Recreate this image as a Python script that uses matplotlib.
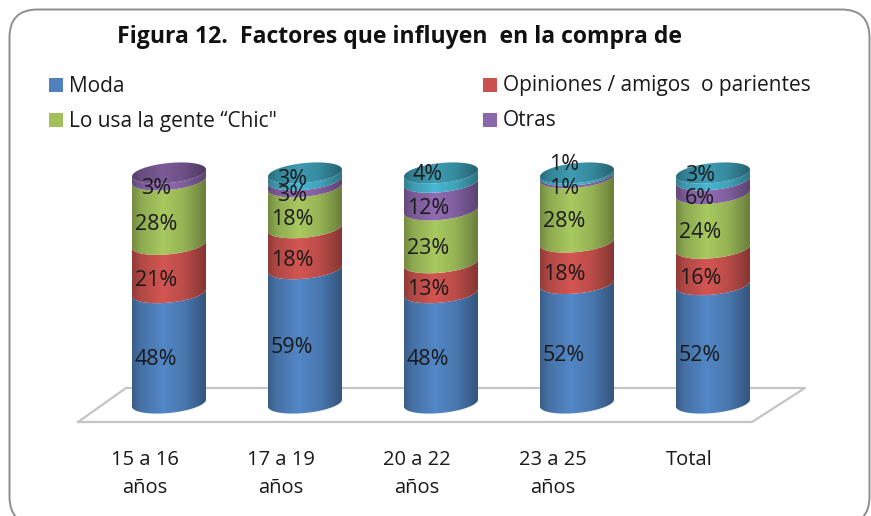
import matplotlib
matplotlib.use("Agg")
import matplotlib.pyplot as plt
import numpy as np
from matplotlib.colors import to_rgb
from matplotlib.patches import FancyBboxPatch, Polygon, Rectangle
from matplotlib.transforms import Affine2D

#===[DATA]===#
categories = ["15 a 16\naños", "17 a 19\naños", "20 a 22\naños", "23 a 25\naños", "Total"]
moda = [48, 59, 48, 52, 52]
opiniones = [21, 18, 13, 18, 16]
chic = [28, 18, 23, 28, 24]
otras = [3, 3, 12, 1, 6]
sin_nombre = [0, 3, 4, 1, 3]
series = [moda, opiniones, chic, otras, sin_nombre]
legend_names = ["Moda", "Opiniones / amigos  o parientes", "Lo usa la gente \u201cChic\"", "Otras"]
title = "Figura 12.  Factores que influyen  en la compra de"

colors = ["#4f81bd", "#c9524e", "#a1c05b", "#8a66aa", "#45aec8"]
top_label_shift = [0, 9, 15, 22, 13]  # the last labels sit higher than the middle of their slice

W, H = 871, 516
X0, XSTEP = 169, 136   # pixel of first bar and gap between bars
Y0, YSCALE = 403, 2.3  # pixel of 0% and pixels per 1%
HALF_W = 37 / XSTEP
B = 10 / YSCALE    # depth of the ellipses
TILT = 3.5 / YSCALE

plt.rcParams["font.family"] = ["Open Sans", "DejaVu Sans"]
fig = plt.figure(figsize=(W / 100, H / 100), dpi=100)
ax = fig.add_axes([0, 0, 1, 1])
ax.set_xlim(-X0 / XSTEP, (W - X0) / XSTEP)
ax.set_ylim((Y0 - H) / YSCALE, Y0 / YSCALE)
ax.axis("off")


def px(x, y):  # pixel of the reference to figure fraction
    return x / W, 1 - y / H


# frame
frame = FancyBboxPatch((9.5, 9.5), 860, 515, boxstyle="round,pad=0,rounding_size=28", fc="white",
                       ec="#8e8e8e", lw=1.4)
frame.set_transform(Affine2D().scale(1, -1).translate(0, H))
fig.add_artist(frame)

# floor
floor_x = [78, 752, 805, 126, 78]
floor_y = [422, 422, 388, 388, 422]
fig.add_artist(plt.Line2D([x / W for x in floor_x], [1 - y / H for y in floor_y], color="#c4c4c4", lw=1.6,
                          transform=fig.transFigure))
ax.set_zorder(5)
ax.patch.set_visible(False)

# horizontal shading of the cylinders
u = np.linspace(0, 1, 200)
shade = np.interp(u, [0, 0.12, 0.42, 0.7, 1], [0.72, 0.88, 1.05, 0.93, 0.66])


def front(cx, y):  # front half of the ellipse, left to right
    t = np.linspace(np.pi, 2 * np.pi, 60)
    c = np.cos(t)
    return np.column_stack([cx + HALF_W * c, y + B * np.sin(t) + TILT * c])


def shaded(poly_pts, col, factor, z):
    rgb = np.clip(np.outer(shade, to_rgb(col)) * factor, 0, 1)[None, :, :]
    x = poly_pts[:, 0]
    im = ax.imshow(rgb, extent=[x.min(), x.max(), -20, 130], aspect="auto", zorder=z, interpolation="bilinear")
    im.set_clip_path(Polygon(poly_pts, closed=True, transform=ax.transData))


values = np.array(series, dtype=float)
for i in range(len(categories)):
    total = values[:, i].sum()
    bottom = 0
    last = 0
    for s in range(len(series)):
        v = values[s, i]
        if v == 0:
            continue
        h = v * 100 / total
        low = front(i, bottom)
        high = front(i, bottom + h)
        shaded(np.vstack([low, high[::-1]]), colors[s], 1, 2)
        label_y = bottom + h / 2 - B - 2 / YSCALE
        if s == 4:
            label_y += top_label_shift[i] / YSCALE
        ax.text(i - 13 / XSTEP, label_y, f"{int(v)}%", ha="center", va="center", fontsize=15.5,
                color="#1a1a1a", zorder=6)
        bottom += h
        last = s
    # top of the cylinder
    t = np.linspace(0, 2 * np.pi, 120)
    c = np.cos(t)
    cap = np.column_stack([i + HALF_W * c, bottom + B * np.sin(t) + TILT * c])
    shaded(cap, colors[last], 0.85, 3)

# category labels
for i, name in enumerate(categories):
    first, *rest = name.split("\n")
    ax.text(i - 24 / XSTEP, (Y0 - 460) / YSCALE, first, ha="center", va="center", fontsize=14.5, color="#1a1a1a")
    if rest:
        ax.text(i - 24 / XSTEP, (Y0 - 488) / YSCALE, rest[0], ha="center", va="center", fontsize=14.5, color="#1a1a1a")

# legend
leg_x = [49, 483, 49, 483]
leg_y = [85, 85, 120, 120]
for name, col, x, y in zip(legend_names, colors, leg_x, leg_y):
    fx, fy = px(x, y + 7)
    fig.add_artist(Rectangle((fx, fy), 14 / W, 14 / H, fc=col, ec="none", transform=fig.transFigure))
    tx, ty = px(x + 20, y + 1)
    fig.text(tx, ty, name, ha="left", va="center", fontsize=15, color="#1a1a1a")

tx, ty = px(117, 37)
fig.text(tx, ty, title, ha="left", va="center", fontsize=16.6, fontweight="bold", color="#111111")

fig.savefig("out.png", dpi=100)
